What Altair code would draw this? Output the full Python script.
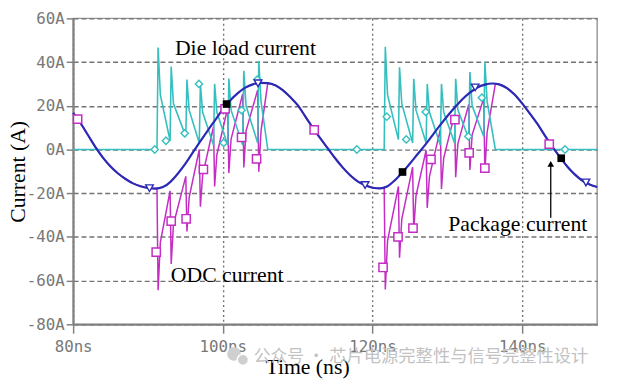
import altair as alt
import pandas as pd

# ---------------- data ----------------
# Package current (A), one reading per ns from 80 ns to 150 ns
pkg_t = list(range(80, 151))
pkg_a = [16.8, 12, 6.5, 1, -3.8, -7.8, -11, -13.5, -15.5, -16.8,
         -17.6, -17.9, -17.2, -14.8, -11, -6.5, -1.3, 3.8, 8.8, 13.6,
         18.5, 22.5, 25.8, 28.3, 29.8, 30.5, 30.4, 29.4, 27.2, 24,
         20.3, 15.2, 10, 5.2, 0.6, -4, -8.2, -11.8, -14.6, -16.4,
         -17.5, -17.8, -16.8, -14, -10.4, -6.4, -2.2, 2, 6.5, 11,
         15.3, 19.3, 23, 26, 28.4, 29.7, 30.2, 29.7, 28, 25,
         21, 16.5, 11.8, 6.5, 1.3, -3.3, -7.8, -11.4, -14.2, -16, -17.2]

# Die load current (A)
die_t = [80, 91.2,
         91.35, 91.65, 92.95, 93.1, 93.4, 95.05, 95.2, 95.5, 96.85,
         97.0, 97.3, 98.75, 98.9, 99.2, 100.65, 100.8, 101.1, 102.65,
         102.8, 103.1, 104.65, 104.8, 105.1, 106.0,
         121.55,
         121.7, 122.0, 123.45, 123.6, 123.9, 125.35, 125.5, 125.8, 127.15,
         127.3, 127.6, 129.05, 129.2, 129.5, 130.95, 131.1, 131.4, 132.85,
         133.0, 133.3, 134.85, 135.0, 135.3, 136.4,
         150]
die_a = [0, 0,
         46.7, 25, 4, 38, 21, 6, 32, 18, 3,
         30, 17, 2, 30, 17, 2, 32.5, 18, 2,
         36, 20, 3, 40.5, 22, 0,
         0,
         47, 25, 4.5, 37.6, 21, 3, 32.4, 18, 3,
         30, 17, 2, 30, 17, 3, 32.4, 18, 5,
         35.4, 20, 6, 40, 22, 0,
         0]

# ODC current (A)
odc_t = [80, 81, 82, 83, 84, 85, 86, 87, 88, 89, 90, 91, 91.2,
         91.35, 91.65, 92.95, 93.1, 93.4, 95.05, 95.2, 95.5, 96.85,
         97.0, 97.3, 98.75, 98.9, 99.2, 100.65, 100.8, 101.1, 102.65,
         102.8, 103.1, 104.65, 104.8, 105.1, 106.0,
         107, 108, 109, 110, 111, 112, 113, 114, 115, 116, 117, 118, 119, 120, 121,
         121.55,
         121.7, 122.0, 123.45, 123.6, 123.9, 125.35, 125.5, 125.8, 127.15,
         127.3, 127.6, 129.05, 129.2, 129.5, 130.95, 131.1, 131.4, 132.85,
         133.0, 133.3, 134.85, 135.0, 135.3, 136.4,
         137, 138, 139, 140, 141, 142, 143, 144, 145, 146, 147, 148, 149, 150]
odc_a = [16.8, 12, 6.5, 1, -3.8, -7.8, -11, -13.5, -15.5, -16.8, -17.6, -17.9, -17.8,
         -64.4, -42.5, -18.9, -52.4, -34.3, -12.3, -37.5, -21.9, 0,
         -26.2, -11.7, 10.4, -16.9, -2.4, 19.1, -10.8, 4.8, 25.4,
         -8.2, 8.5, 27.3, -10.2, 8.5, 30.4,
         29.4, 27.2, 24, 20.3, 15.2, 10, 5.2, 0.6, -4, -8.2, -11.8, -14.6, -16.4, -17.5, -17.8,
         -17.3,
         -64.1, -41.8, -16.9, -49.5, -31.9, -8.1, -36.8, -21.2, -0.3,
         -26.7, -12.3, 9.2, -18.1, -3.9, 16.1, -12.7, 2.8, 20.6,
         -9.4, 6.7, 23.5, -10.3, 7.9, 30,
         29.7, 28, 25, 21, 16.5, 11.8, 6.5, 1.3, -3.3, -7.8, -11.4, -14.2, -16, -17.2]

# trace markers
tri_t = [90.2, 104.7, 119.0, 133.7, 148.5]
tri_a = [-17.7, 30.3, -16.3, 28.4, -15.1]
blk_t = [100.5, 124.0, 145.2]
blk_a = [20.8, -10.3, -4.0]
sq_t = [80.6, 91.1, 93.1, 95.1, 97.4, 100.3, 102.5, 104.5, 112.2,
        121.4, 123.4, 125.4, 127.8, 131.0, 132.9, 135.0, 143.6]
sq_a = [13.9, -47, -32.8, -31.7, -9.1, 18.6, 5.5, -4.3, 9,
        -54, -40, -36, -4.5, 13.7, -1.5, -8.5, 2.5]
dia_t = [90.9, 92.4, 94.9, 96.8, 100.1, 102.5, 104.6, 117.9,
         121.9, 124.5, 127.1, 132.8, 134.6, 145.7]
dia_a = [0, 4, 7.4, 30, 3, 18, 32, 0, 15, 4.6, 17.2, 6, 23.7, 0]

# annotations
ann_text = ["Die load current", "ODC current", "Package current"]
ann_t = [93.6, 93.05, 130.1]
ann_a = [43.3, -60.6, -37.5]
arrow_t = [143.8]
arrow_from = [-31.2]
arrow_to = [-7.0]
arrow_tip = [-6.6]

x_ticks = [80, 100, 120, 140]
y_ticks = [-80, -60, -40, -20, 0, 20, 40, 60]

watermark_a = "公众号 ·"
watermark_b = "芯片电源完整性与信号完整性设计"

# ---------------- colours ----------------
C_DIE = "#35bfbf"
C_ODC = "#c42cc4"
C_PKG = "#2a2ab4"
GRAY = "#808080"

xs = alt.Scale(domain=[80, 150], nice=False, zero=False)
ys = alt.Scale(domain=[-80, 60], nice=False, zero=False)

xaxis = alt.Axis(values=x_ticks, labelExpr="datum.value + 'ns'", title="Time (ns)",
                 grid=True, gridDash=[2, 3], gridColor="#737373", gridWidth=1.4,
                 domainColor=GRAY, domainWidth=2, tickColor=GRAY, tickWidth=1.5,
                 tickSize=9, labelPadding=6, labelFont="DejaVu Sans Mono",
                 labelFontSize=16, labelColor="#787878", labelFlush=False, labelOverlap=False,
                 titleFont="Liberation Serif", titleFontSize=22, titleFontWeight="normal",
                 titleColor="black", titleX=237, titleY=50, titleBaseline="alphabetic",
                 titleAlign="center")
yaxis = alt.Axis(values=y_ticks, labelExpr="datum.value + 'A'", title="Current (A)",
                 grid=True, gridDash=[5, 3], gridColor="#737373", gridWidth=1.4,
                 domainColor=GRAY, domainWidth=2, tickColor=GRAY, tickWidth=1.5,
                 tickSize=7, labelPadding=2, labelFont="DejaVu Sans Mono",
                 labelFontSize=16, labelColor="#787878", labelFlush=False, labelOverlap=False,
                 titleFont="Liberation Serif", titleFontSize=22, titleFontWeight="normal",
                 titleColor="black", titleX=-49, titleY=155, titleAngle=270,
                 titleBaseline="alphabetic", titleAlign="center")

X = alt.X("t:Q", scale=xs, axis=xaxis)
Y = alt.Y("a:Q", scale=ys, axis=yaxis)

df_pkg = pd.DataFrame({"t": pkg_t, "a": pkg_a})
df_die = pd.DataFrame({"t": die_t, "a": die_a})
df_odc = pd.DataFrame({"t": odc_t, "a": odc_a})

odc_line = alt.Chart(df_odc).mark_line(color=C_ODC, strokeWidth=1.5).encode(x=X, y=Y, order="t:Q")
die_line = alt.Chart(df_die).mark_line(color=C_DIE, strokeWidth=1.6).encode(x=X, y=Y, order="t:Q")
pkg_line = alt.Chart(df_pkg).mark_line(color=C_PKG, strokeWidth=2.2, interpolate="monotone").encode(x=X, y=Y)

sq_pts = alt.Chart(pd.DataFrame({"t": sq_t, "a": sq_a})).mark_point(
    shape="square", filled=True, fill="white", stroke=C_ODC, strokeWidth=1.5, size=70, opacity=1
).encode(x=X, y=Y)
dia_pts = alt.Chart(pd.DataFrame({"t": dia_t, "a": dia_a})).mark_point(
    shape="diamond", filled=True, fill="white", stroke=C_DIE, strokeWidth=1.4, size=55, opacity=1
).encode(x=X, y=Y)
tri_pts = alt.Chart(pd.DataFrame({"t": tri_t, "a": tri_a})).mark_point(
    shape="triangle-down", filled=True, fill="white", stroke=C_PKG, strokeWidth=1.4, size=60, opacity=1
).encode(x=X, y=Y)
blk_pts = alt.Chart(pd.DataFrame({"t": blk_t, "a": blk_a})).mark_point(
    shape="square", filled=True, color="black", size=60, opacity=1
).encode(x=X, y=Y)

ann = alt.Chart(pd.DataFrame({"t": ann_t, "a": ann_a, "label": ann_text})).mark_text(
    font="Liberation Serif", fontSize=22, color="black", align="left", baseline="alphabetic"
).encode(x=X, y=Y, text="label:N")

arrow_df = pd.DataFrame({"t": arrow_t, "a": arrow_from, "a2": arrow_to, "tip": arrow_tip})
arrow_line = alt.Chart(arrow_df).mark_rule(color="black", strokeWidth=1.3).encode(
    x=X, y=Y, y2="a2:Q")
arrow_head = alt.Chart(arrow_df).mark_point(
    shape="triangle-up", filled=True, color="black", size=45, opacity=1
).encode(x=X, y=alt.Y("tip:Q", scale=ys, axis=yaxis))

one = pd.DataFrame({"k": [0]})
wm_icon1 = alt.Chart(one).mark_point(shape="circle", filled=True, color="#cfcfcf", size=190, opacity=1).encode(
    x=alt.value(163), y=alt.value(340))
wm_icon2 = alt.Chart(one).mark_point(shape="circle", filled=True, color="#cfcfcf", size=130, opacity=1,
                                     stroke="white", strokeWidth=1.5).encode(
    x=alt.value(172), y=alt.value(346))
wm_a = alt.Chart(one).mark_text(text=watermark_a, font="Noto Sans CJK SC", fontSize=17, color="#c2c2c2",
                                align="left", baseline="middle").encode(x=alt.value(183), y=alt.value(343))
wm_b = alt.Chart(one).mark_text(text=watermark_b, font="Noto Sans CJK SC", fontSize=17.5, color="#c2c2c2",
                                align="right", baseline="middle").encode(x=alt.value(522), y=alt.value(343))

chart = alt.layer(
    odc_line, die_line, pkg_line, sq_pts, dia_pts, tri_pts, blk_pts,
    ann, arrow_line, arrow_head, wm_icon1, wm_icon2, wm_a, wm_b
).properties(
    width=531, height=310,
    autosize=alt.AutoSizeParams(type="none"),
    padding={"left": 66, "top": 8, "right": 12, "bottom": 60},
    background="white",
).configure_view(stroke="#9a9a9a", strokeWidth=1.5)

chart.save("out.html", embed_options={"renderer": "svg", "actions": False})
